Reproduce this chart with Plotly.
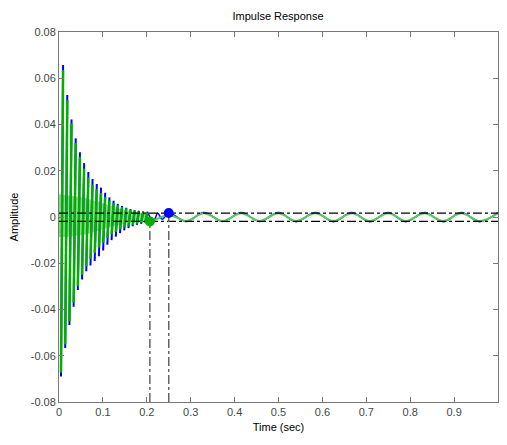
import plotly.graph_objects as go

# times of the negative / positive tips of the fast oscillation (sec)
neg_t = [0.0045, 0.0141, 0.0237, 0.0333, 0.0429, 0.0525, 0.0621, 0.0717, 0.0813, 0.0909, 0.1005,
         0.1101, 0.1197, 0.1293, 0.1389, 0.1485, 0.1581, 0.1677, 0.1773, 0.1869, 0.1965]
pos_t = [0.0093, 0.0189, 0.0285, 0.0381, 0.0477, 0.0573, 0.0669, 0.0765, 0.0861, 0.0957, 0.1053,
         0.1149, 0.1245, 0.1341, 0.1437, 0.1533, 0.1629, 0.1725, 0.1821, 0.1917, 0.2013]

# system 1 (blue) tips
blue_neg = [-0.0690, -0.0566, -0.0467, -0.0388, -0.0316, -0.0270, -0.0235, -0.0210, -0.0190, -0.0170, -0.0145,
            -0.0120, -0.0100, -0.0085, -0.0070, -0.0058, -0.0048, -0.0040, -0.0034, -0.0030, -0.0026]
blue_pos = [0.0657, 0.0528, 0.0422, 0.0340, 0.0280, 0.0233, 0.0195, 0.0164, 0.0143, 0.0127, 0.0105,
            0.0085, 0.0070, 0.0057, 0.0048, 0.0040, 0.0034, 0.0030, 0.0027, 0.0024, 0.0022]

# system 2 (green) tips
green_neg = [-0.0672, -0.0550, -0.0450, -0.0370, -0.0298, -0.0250, -0.0212, -0.0180, -0.0155, -0.0132, -0.0110,
             -0.0090, -0.0075, -0.0064, -0.0054, -0.0046, -0.0040, -0.0034, -0.0029, -0.0025, -0.0021]
green_pos = [0.0635, 0.0505, 0.0405, 0.0320, 0.0260, 0.0210, 0.0172, 0.0140, 0.0120, 0.0104, 0.0086,
             0.0072, 0.0060, 0.0051, 0.0044, 0.0037, 0.0032, 0.0028, 0.0024, 0.0021, 0.0019]

# light green envelope of the dense part
band_t = [0, 0.03, 0.06, 0.09, 0.12, 0.15, 0.18, 0.2]
band_hi = [0.0098, 0.0092, 0.0082, 0.0066, 0.0046, 0.0030, 0.0020, 0.0012]
band_lo = [-0.0088, -0.0084, -0.0076, -0.0060, -0.0042, -0.0028, -0.0019, -0.0012]

# slow residual oscillation (extremes)
green_tail_t = [0.1965, 0.207, 0.25, 0.29, 0.33, 0.373, 0.415, 0.457, 0.50, 0.54, 0.584, 0.625,
                0.667, 0.708, 0.75, 0.79, 0.833, 0.875, 0.917, 0.958, 1.0]
green_tail = [-0.0012, -0.0019, 0.0009, -0.0017, 0.0016, -0.0017, 0.0016, -0.0017, 0.0016, -0.0017, 0.0016,
              -0.0017, 0.0016, -0.0017, 0.0016, -0.0017, 0.0016, -0.0017, 0.0016, -0.0017, 0.0016]
blue_tail_t = [0.2013, 0.215, 0.225, 0.235, 0.25, 0.29, 0.33, 0.373, 0.415, 0.457, 0.50, 0.54, 0.584,
               0.625, 0.667, 0.708, 0.75, 0.79, 0.833, 0.875, 0.917, 0.958, 1.0]
blue_tail = [0.0022, -0.0018, 0.0016, -0.0010, 0.0017, -0.0019, 0.0019, -0.0019, 0.0019, -0.0019, 0.0019,
             -0.0020, 0.0019, -0.0020, 0.0019, -0.0020, 0.0019, -0.0020, 0.0019, -0.0020, 0.0019, -0.0020, 0.0019]

# settling markers and bounds
settle_t = [0.207, 0.25]
settle_y = [-0.0019, 0.0017]
bound_hi = 0.0017
bound_lo = -0.0019

x_ticks = [0, 0.1, 0.2, 0.3, 0.4, 0.5, 0.6, 0.7, 0.8, 0.9, 1]
x_labels = ['0', '0.1', '0.2', '0.3', '0.4', '0.5', '0.6', '0.7', '0.8', '0.9', '1']
y_ticks = [0.08, 0.06, 0.04, 0.02, 0, -0.02, -0.04, -0.06, -0.08]
y_labels = ['0.08', '0.06', '0.04', '0.02', '0', '-0.02', '-0.04', '-0.06', '-0.08']

BLUE = 'rgb(0,0,255)'
GREEN = 'rgb(0,175,0)'
FONT = 'Liberation Sans, Arial'


def stripes(t0, y0, t1, y1):
    xs, ys = [], []
    for a, b, c, d in zip(t0, y0, t1, y1):
        xs += [a, c, None]
        ys += [b, d, None]
    return xs, ys


fig = go.Figure()

# light green fill in the middle of the dense oscillation
fig.add_trace(go.Scatter(x=band_t + band_t[::-1], y=band_hi + band_lo[::-1], fill='toself',
                         fillcolor='rgb(145,215,145)', line=dict(width=0), mode='lines'))

bx, by = stripes(neg_t, blue_neg, pos_t, blue_pos)
fig.add_trace(go.Scatter(x=bx, y=by, mode='lines', line=dict(color=BLUE, width=2)))
fig.add_trace(go.Scatter(x=blue_tail_t, y=blue_tail, mode='lines',
                         line=dict(color=BLUE, width=1.5, shape='spline')))

gx, gy = stripes(neg_t, green_neg, pos_t, green_pos)
fig.add_trace(go.Scatter(x=gx, y=gy, mode='lines', line=dict(color=GREEN, width=2.5)))
fig.add_trace(go.Scatter(x=green_tail_t, y=green_tail, mode='lines',
                         line=dict(color='rgb(90,200,90)', width=2, shape='spline')))

# settling bounds
for yb in [bound_hi, bound_lo]:
    fig.add_trace(go.Scatter(x=[0, 1], y=[yb, yb], mode='lines',
                             line=dict(color='black', width=1.3, dash='dashdot')))
for tx, ty in zip(settle_t, settle_y):
    fig.add_trace(go.Scatter(x=[tx, tx], y=[-0.08, ty], mode='lines',
                             line=dict(color='rgb(100,100,100)', width=1.5, dash='dashdot')))

fig.add_trace(go.Scatter(x=settle_t, y=settle_y, mode='markers',
                         marker=dict(color=[GREEN, BLUE], size=10)))

axis_style = dict(showgrid=False, zeroline=False, showline=True, linecolor='rgb(120,120,120)',
                  linewidth=1, mirror='ticks', ticks='inside', ticklen=5, tickcolor='rgb(120,120,120)',
                  automargin=False,
                  tickfont=dict(family=FONT, size=11, color='rgb(70,70,70)'))

# page has an 8px body margin, so the figure is sized to fit inside the window
fig.update_layout(
    width=491, height=429,
    margin=dict(l=51, r=1, t=24, b=35),
    plot_bgcolor='white', paper_bgcolor='white',
    showlegend=False,
    title=dict(text='Impulse Response', x=0.55, xanchor='center', y=0.981, yanchor='middle',
               font=dict(family=FONT, size=11, color='black')),
    xaxis=dict(range=[0, 1], tickvals=x_ticks, ticktext=x_labels,
               title=dict(text='Time (sec)', standoff=6, font=dict(family=FONT, size=11, color='black')),
               **axis_style),
    yaxis=dict(range=[-0.08, 0.08], tickvals=y_ticks, ticktext=y_labels,
               title=dict(text='Amplitude', standoff=10, font=dict(family=FONT, size=11, color='black')),
               **axis_style),
)

fig.write_html('out.html')
